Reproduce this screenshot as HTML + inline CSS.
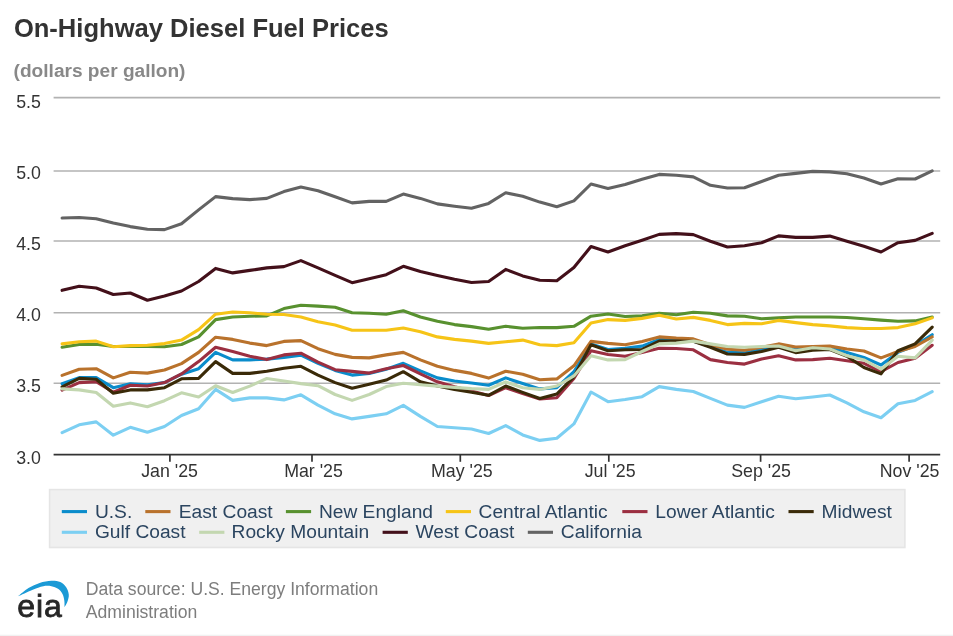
<!DOCTYPE html>
<html lang="en"><head><meta charset="utf-8"><title>On-Highway Diesel Fuel Prices</title>
<style>
html,body{margin:0;padding:0;background:#fff;}
body{width:953px;height:636px;overflow:hidden;font-family:"Liberation Sans",Arial,sans-serif;}
svg{display:block;filter:blur(0.45px)}
text{font-family:"Liberation Sans",Arial,sans-serif;}
.t{font-size:25.55px;font-weight:bold;fill:#333;}
.st{font-size:19.1px;font-weight:bold;fill:#888;}
.ax{font-size:17.8px;fill:#333;}
.lg{font-size:19.2px;fill:#2b4560;}
.ft{font-size:17.6px;fill:#7d7d7d;}
.s{fill:none;stroke-width:3.1;stroke-linejoin:round;stroke-linecap:round;}
</style></head><body>
<svg width="953" height="636" viewBox="0 0 953 636">
<rect width="953" height="636" fill="#fff"/>
<text class="t" x="13.9" y="37.4">On-Highway Diesel Fuel Prices</text>
<text class="st" x="13.6" y="77.3">(dollars per gallon)</text>
<line x1="53.6" x2="940.2" y1="97.6" y2="97.6" stroke="#b2b2b2" stroke-width="1.6"/>
<line x1="53.6" x2="940.2" y1="171.0" y2="171.0" stroke="#b2b2b2" stroke-width="1.6"/>
<line x1="53.6" x2="940.2" y1="241.0" y2="241.0" stroke="#b2b2b2" stroke-width="1.6"/>
<line x1="53.6" x2="940.2" y1="312.8" y2="312.8" stroke="#b2b2b2" stroke-width="1.6"/>
<line x1="53.6" x2="940.2" y1="383.2" y2="383.2" stroke="#b2b2b2" stroke-width="1.6"/>
<text class="ax" x="16.2" y="108.4">5.5</text>
<text class="ax" x="16.2" y="179.4">5.0</text>
<text class="ax" x="16.2" y="250.1">4.5</text>
<text class="ax" x="16.2" y="321.2">4.0</text>
<text class="ax" x="16.2" y="392.0">3.5</text>
<text class="ax" x="16.2" y="463.9">3.0</text>
<polyline class="s" stroke="#0a8ccb" points="62.1,383.8 79.2,377.6 96.2,377.6 113.3,387.7 130.3,383.8 147.4,384.8 164.5,382.6 181.5,374.2 198.6,368.7 215.6,352.4 232.7,359.9 249.8,359.9 266.8,359.1 283.9,357.4 300.9,355.2 318.0,363.3 335.1,370.4 352.1,375.1 369.2,373.4 386.2,369.2 403.3,363.3 420.4,370.9 437.4,377.9 454.5,381.0 471.5,383.0 488.6,385.2 505.7,377.9 522.7,383.5 539.8,388.9 556.8,387.7 573.9,371.7 591.0,343.9 608.0,349.5 625.1,348.2 642.1,346.1 659.2,339.4 676.3,340.1 693.3,341.1 710.4,346.5 727.4,352.4 744.5,352.9 761.6,349.5 778.6,346.5 795.7,349.8 812.7,347.8 829.8,347.3 846.9,352.4 863.9,357.4 881.0,365.0 898.0,352.4 915.1,345.6 932.2,334.7"/>
<polyline class="s" stroke="#b9722c" points="62.1,375.4 79.2,369.2 96.2,368.7 113.3,377.9 130.3,372.2 147.4,373.1 164.5,370.0 181.5,363.6 198.6,352.4 215.6,337.2 232.7,339.4 249.8,343.1 266.8,345.6 283.9,341.4 300.9,340.6 318.0,348.7 335.1,354.4 352.1,357.4 369.2,357.9 386.2,354.9 403.3,352.4 420.4,359.9 437.4,366.3 454.5,370.4 471.5,373.4 488.6,378.1 505.7,371.2 522.7,374.2 539.8,379.8 556.8,378.9 573.9,365.8 591.0,341.4 608.0,343.4 625.1,344.8 642.1,341.4 659.2,336.9 676.3,338.1 693.3,338.9 710.4,344.8 727.4,349.3 744.5,350.3 761.6,347.3 778.6,343.9 795.7,347.0 812.7,346.5 829.8,346.1 846.9,349.0 863.9,351.0 881.0,357.9 898.0,351.5 915.1,346.5 932.2,336.9"/>
<polyline class="s" stroke="#58912f" points="62.1,347.3 79.2,344.5 96.2,344.3 113.3,346.5 130.3,346.5 147.4,346.5 164.5,346.8 181.5,344.5 198.6,336.9 215.6,319.6 232.7,317.0 249.8,316.2 266.8,315.9 283.9,308.6 300.9,305.3 318.0,306.1 335.1,307.3 352.1,312.8 369.2,313.3 386.2,314.2 403.3,310.8 420.4,317.0 437.4,321.2 454.5,324.6 471.5,326.6 488.6,329.3 505.7,326.3 522.7,328.3 539.8,327.5 556.8,327.6 573.9,326.3 591.0,316.2 608.0,314.0 625.1,316.5 642.1,315.9 659.2,313.3 676.3,314.8 693.3,312.3 710.4,313.3 727.4,315.9 744.5,316.2 761.6,318.7 778.6,317.9 795.7,317.0 812.7,317.0 829.8,317.0 846.9,317.5 863.9,318.7 881.0,320.1 898.0,321.2 915.1,320.9 932.2,317.0"/>
<polyline class="s" stroke="#f6c417" points="62.1,343.9 79.2,341.8 96.2,341.1 113.3,346.8 130.3,345.6 147.4,345.3 164.5,343.6 181.5,340.1 198.6,329.6 215.6,314.2 232.7,312.0 249.8,312.8 266.8,314.2 283.9,314.5 300.9,317.0 318.0,321.7 335.1,324.9 352.1,330.2 369.2,330.2 386.2,330.2 403.3,328.0 420.4,331.8 437.4,336.9 454.5,339.4 471.5,341.1 488.6,343.4 505.7,341.8 522.7,340.1 539.8,344.8 556.8,345.6 573.9,342.8 591.0,322.9 608.0,319.6 625.1,320.4 642.1,318.4 659.2,315.3 676.3,319.0 693.3,317.4 710.4,320.4 727.4,324.6 744.5,323.4 761.6,323.8 778.6,320.4 795.7,322.6 812.7,324.6 829.8,325.9 846.9,327.6 863.9,328.5 881.0,328.5 898.0,327.6 915.1,323.8 932.2,317.9"/>
<polyline class="s" stroke="#9b2f41" points="62.1,390.2 79.2,382.6 96.2,381.8 113.3,392.2 130.3,385.2 147.4,386.0 164.5,382.6 181.5,373.9 198.6,361.6 215.6,347.3 232.7,351.5 249.8,356.2 266.8,359.6 283.9,354.9 300.9,353.2 318.0,362.1 335.1,369.7 352.1,371.4 369.2,373.1 386.2,368.7 403.3,365.5 420.4,373.9 437.4,381.8 454.5,386.8 471.5,391.1 488.6,395.5 505.7,387.7 522.7,393.6 539.8,399.0 556.8,397.8 573.9,378.4 591.0,350.7 608.0,354.5 625.1,356.2 642.1,352.4 659.2,348.2 676.3,348.5 693.3,349.8 710.4,359.6 727.4,362.5 744.5,364.1 761.6,359.1 778.6,355.7 795.7,359.9 812.7,359.6 829.8,358.2 846.9,360.8 863.9,363.3 881.0,371.7 898.0,362.5 915.1,358.2 932.2,345.3"/>
<polyline class="s" stroke="#3a2a08" points="62.1,386.8 79.2,378.4 96.2,379.3 113.3,393.2 130.3,389.9 147.4,389.9 164.5,387.7 181.5,378.8 198.6,378.4 215.6,361.6 232.7,373.4 249.8,373.4 266.8,371.2 283.9,368.3 300.9,366.3 318.0,375.1 335.1,382.6 352.1,388.2 369.2,384.3 386.2,380.1 403.3,371.7 420.4,381.8 437.4,386.0 454.5,389.4 471.5,392.2 488.6,395.3 505.7,386.0 522.7,392.4 539.8,398.5 556.8,394.0 573.9,376.8 591.0,344.8 608.0,350.7 625.1,349.8 642.1,349.5 659.2,341.1 676.3,341.1 693.3,341.4 710.4,347.3 727.4,354.0 744.5,354.4 761.6,351.5 778.6,347.3 795.7,352.6 812.7,350.2 829.8,349.5 846.9,356.2 863.9,367.5 881.0,373.9 898.0,350.7 915.1,343.9 932.2,327.1"/>
<polyline class="s" stroke="#7ccff2" points="62.1,432.7 79.2,424.8 96.2,421.9 113.3,435.2 130.3,427.3 147.4,432.3 164.5,426.5 181.5,415.5 198.6,408.8 215.6,389.4 232.7,400.4 249.8,397.9 266.8,397.9 283.9,399.9 300.9,394.8 318.0,405.1 335.1,413.8 352.1,418.9 369.2,416.4 386.2,413.8 403.3,405.4 420.4,416.4 437.4,426.5 454.5,427.8 471.5,429.0 488.6,433.5 505.7,425.6 522.7,434.9 539.8,440.4 556.8,438.2 573.9,423.9 591.0,392.0 608.0,401.7 625.1,399.5 642.1,396.7 659.2,386.6 676.3,389.4 693.3,391.5 710.4,398.4 727.4,405.1 744.5,407.4 761.6,401.7 778.6,396.2 795.7,398.7 812.7,397.0 829.8,395.0 846.9,402.9 863.9,411.8 881.0,417.7 898.0,403.7 915.1,400.4 932.2,391.6"/>
<polyline class="s" stroke="#c3d7b0" points="62.1,388.9 79.2,389.9 96.2,392.5 113.3,406.3 130.3,402.9 147.4,406.8 164.5,400.7 181.5,392.8 198.6,397.0 215.6,385.7 232.7,392.5 249.8,386.1 266.8,378.5 283.9,381.0 300.9,383.6 318.0,385.7 335.1,394.5 352.1,400.4 369.2,394.5 386.2,386.6 403.3,383.2 420.4,384.7 437.4,386.1 454.5,387.4 471.5,388.6 488.6,389.4 505.7,381.9 522.7,387.7 539.8,389.4 556.8,386.0 573.9,375.9 591.0,355.7 608.0,359.9 625.1,359.6 642.1,351.5 659.2,343.9 676.3,343.1 693.3,341.1 710.4,343.9 727.4,346.5 744.5,347.3 761.6,346.5 778.6,346.0 795.7,350.7 812.7,347.8 829.8,349.0 846.9,355.7 863.9,359.9 881.0,369.2 898.0,356.2 915.1,357.9 932.2,340.1"/>
<polyline class="s" stroke="#43101a" points="62.1,290.3 79.2,286.2 96.2,288.0 113.3,294.5 130.3,293.0 147.4,300.3 164.5,296.1 181.5,291.0 198.6,281.5 215.6,268.4 232.7,272.9 249.8,270.4 266.8,267.9 283.9,266.6 300.9,260.6 318.0,267.9 335.1,275.4 352.1,282.7 369.2,278.7 386.2,274.7 403.3,266.3 420.4,271.6 437.4,275.4 454.5,279.2 471.5,282.5 488.6,281.5 505.7,269.4 522.7,275.9 539.8,280.2 556.8,280.7 573.9,267.6 591.0,246.5 608.0,252.0 625.1,245.7 642.1,240.2 659.2,234.4 676.3,233.6 693.3,234.6 710.4,241.2 727.4,247.0 744.5,245.7 761.6,242.7 778.6,235.9 795.7,237.4 812.7,237.4 829.8,236.1 846.9,241.2 863.9,246.2 881.0,252.0 898.0,242.7 915.1,240.4 932.2,233.4"/>
<polyline class="s" stroke="#636363" points="62.1,218.0 79.2,217.5 96.2,218.7 113.3,223.0 130.3,226.6 147.4,229.3 164.5,229.6 181.5,223.8 198.6,209.9 215.6,196.6 232.7,198.6 249.8,199.6 266.8,198.4 283.9,191.6 300.9,187.0 318.0,190.8 335.1,196.8 352.1,202.9 369.2,201.4 386.2,201.4 403.3,194.1 420.4,198.4 437.4,203.9 454.5,206.2 471.5,208.2 488.6,203.4 505.7,192.8 522.7,196.3 539.8,202.1 556.8,206.7 573.9,200.9 591.0,184.0 608.0,188.5 625.1,184.5 642.1,179.2 659.2,174.4 676.3,175.2 693.3,176.9 710.4,185.3 727.4,188.0 744.5,187.8 761.6,181.5 778.6,175.2 795.7,173.4 812.7,171.4 829.8,171.9 846.9,173.7 863.9,178.0 881.0,184.0 898.0,178.7 915.1,179.0 932.2,170.9"/>
<line x1="53.6" x2="940.2" y1="454.7" y2="454.7" stroke="#333" stroke-width="1.8"/>
<line x1="169.9" x2="169.9" y1="454.7" y2="461.8" stroke="#333" stroke-width="1.7"/>
<text class="ax" x="169.6" y="476.7" text-anchor="middle">Jan '25</text>
<line x1="312.0" x2="312.0" y1="454.7" y2="461.8" stroke="#333" stroke-width="1.7"/>
<text class="ax" x="313.5" y="476.7" text-anchor="middle">Mar '25</text>
<line x1="460.3" x2="460.3" y1="454.7" y2="461.8" stroke="#333" stroke-width="1.7"/>
<text class="ax" x="461.9" y="476.7" text-anchor="middle">May '25</text>
<line x1="608.8" x2="608.8" y1="454.7" y2="461.8" stroke="#333" stroke-width="1.7"/>
<text class="ax" x="610.1" y="476.7" text-anchor="middle">Jul '25</text>
<line x1="760.6" x2="760.6" y1="454.7" y2="461.8" stroke="#333" stroke-width="1.7"/>
<text class="ax" x="761.1" y="476.7" text-anchor="middle">Sep '25</text>
<line x1="909.1" x2="909.1" y1="454.7" y2="461.8" stroke="#333" stroke-width="1.7"/>
<text class="ax" x="909.6" y="476.7" text-anchor="middle">Nov '25</text>
<rect x="49.6" y="489.6" width="855.3" height="57.9" fill="#f0f0f0" stroke="#e5e5e5" stroke-width="1.6"/>
<line x1="61.8" x2="87.0" y1="511.6" y2="511.6" stroke="#0a8ccb" stroke-width="3.1"/>
<text class="lg" x="94.9" y="517.7">U.S.</text>
<line x1="145.3" x2="170.5" y1="511.6" y2="511.6" stroke="#b9722c" stroke-width="3.1"/>
<text class="lg" x="178.8" y="517.7">East Coast</text>
<line x1="285.9" x2="311.1" y1="511.6" y2="511.6" stroke="#58912f" stroke-width="3.1"/>
<text class="lg" x="318.9" y="517.7">New England</text>
<line x1="445.8" x2="471.0" y1="511.6" y2="511.6" stroke="#f6c417" stroke-width="3.1"/>
<text class="lg" x="478.6" y="517.7">Central Atlantic</text>
<line x1="622.3" x2="647.5" y1="511.6" y2="511.6" stroke="#9b2f41" stroke-width="3.1"/>
<text class="lg" x="655.3" y="517.7">Lower Atlantic</text>
<line x1="788.5" x2="813.7" y1="511.6" y2="511.6" stroke="#3a2a08" stroke-width="3.1"/>
<text class="lg" x="821.5" y="517.7">Midwest</text>
<line x1="61.8" x2="87.0" y1="532.3" y2="532.3" stroke="#7ccff2" stroke-width="3.1"/>
<text class="lg" x="94.9" y="538.1">Gulf Coast</text>
<line x1="199.2" x2="224.4" y1="532.3" y2="532.3" stroke="#c3d7b0" stroke-width="3.1"/>
<text class="lg" x="231.6" y="538.1">Rocky Mountain</text>
<line x1="382.6" x2="407.8" y1="532.3" y2="532.3" stroke="#43101a" stroke-width="3.1"/>
<text class="lg" x="415.6" y="538.1">West Coast</text>
<line x1="527.8" x2="553.0" y1="532.3" y2="532.3" stroke="#636363" stroke-width="3.1"/>
<text class="lg" x="560.8" y="538.1">California</text>
<path d="M18.1,596.2 C19.8,594.8 24.9,590.2 28.5,588.0 C32.1,585.8 35.8,584.1 39.6,582.9 C43.4,581.7 48.0,580.8 51.4,580.7 C54.8,580.6 57.8,581.0 60.3,582.1 C62.8,583.2 64.8,585.2 66.2,587.3 C67.6,589.4 68.6,592.2 68.8,594.7 C69.0,597.2 68.0,600.0 67.3,602.1 C66.6,604.2 65.0,606.4 64.5,607.3 C64.5,606.2 64.6,602.8 64.3,600.6 C64.0,598.4 63.5,596.0 62.5,594.0 C61.5,592.0 59.9,590.1 58.0,588.8 C56.1,587.5 53.9,586.6 51.4,586.2 C48.9,585.8 46.5,585.6 43.3,586.2 C40.1,586.8 36.4,588.2 32.2,589.9 C28.0,591.6 20.5,595.2 18.1,596.2 Z" fill="#1b9ad6"/>
<text x="17.2" y="616.9" style="font-size:32px;fill:#262626;stroke:#262626;stroke-width:0.8px;letter-spacing:1.0px">eia</text>
<text class="ft" x="85.8" y="594.5">Data source: U.S. Energy Information</text>
<text class="ft" x="85.8" y="618.0">Administration</text>
<rect x="0" y="634.7" width="953" height="1.3" fill="#f1f1f1"/>
</svg>
</body></html>
